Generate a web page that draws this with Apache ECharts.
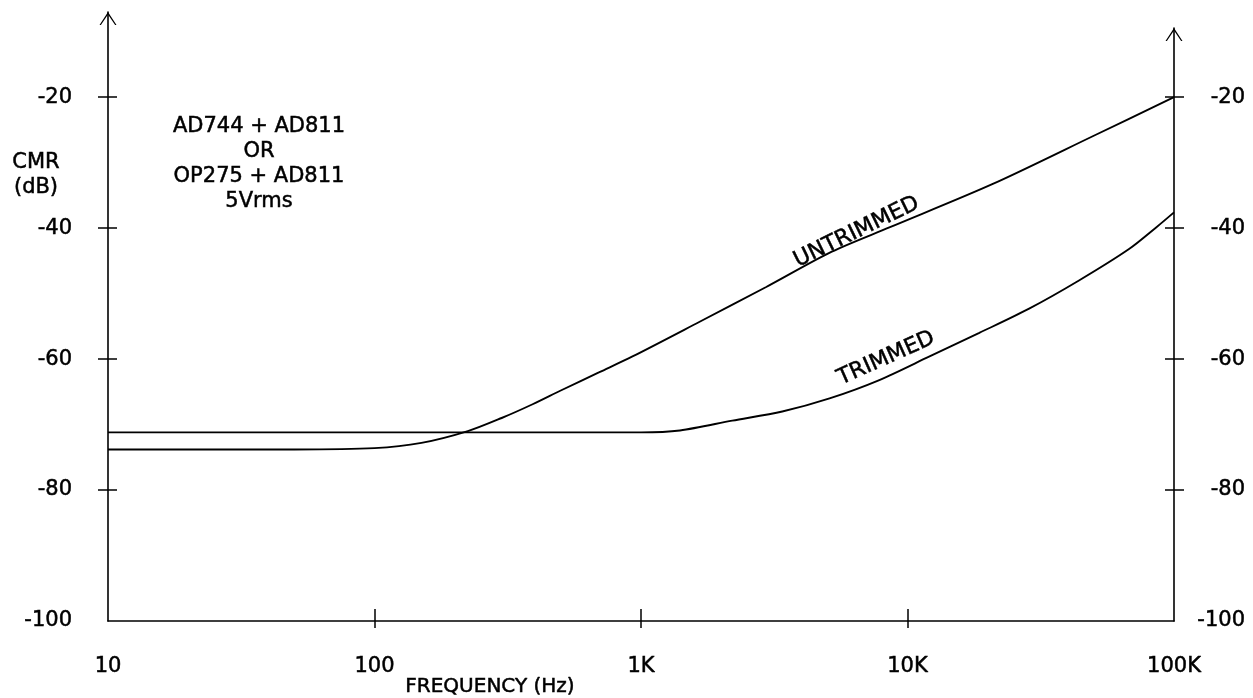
<!DOCTYPE html>
<html>
<head>
<meta charset="utf-8">
<script src="https://cdn.jsdelivr.net/npm/echarts@6/dist/echarts.min.js"></script>
<style>
  html, body { margin: 0; padding: 0; background: #fff; }
  #chart { width: 1253px; height: 698px; }
</style>
</head>
<body>
<div id="chart"></div>
<script>
// ---- data ----
const freqUntrimmed = [10, 50, 100, 150, 224, 300, 392, 500, 698, 929, 1660, 2950, 5200, 8550, 20800, 50000, 100000];
const cmrUntrimmed  = [-73.8, -73.8, -73.6, -72.8, -71.0, -69.0, -66.9, -64.8, -62.0, -59.6, -54.3, -49.0, -43.6, -39.9, -33.3, -25.9, -20.0];

const freqTrimmed = [10, 100, 1000, 1400, 2200, 3390, 5100, 7840, 12100, 18600, 28600, 44000, 67800, 85700, 100000];
const cmrTrimmed  = [-71.2, -71.2, -71.2, -70.9, -69.4, -68.0, -66.0, -63.2, -59.6, -56.0, -52.3, -48.0, -43.2, -39.9, -37.6];

const xTickValues = [10, 100, 1000, 10000, 100000];
const xTickLabels = ['10', '100', '1K', '10K', '100K'];
const xMinorTicks = [100, 1000, 10000];
const yTickValues = [-100, -80, -60, -40, -20];
const yCrossTicks = [-80, -60, -40, -20];

const curveLabels = [
  { name: 'UNTRIMMED', freq: 6440, db: -40.6, angle: 26 },
  { name: 'TRIMMED', freq: 8320, db: -59.9, angle: 24 }
];
const noteLines = ['AD744 + AD811', 'OR', 'OP275 + AD811', '5Vrms'];
const yTitle = ['CMR', '(dB)'];
const xTitle = 'FREQUENCY (Hz)';

// ---- chart ----
const FONT = 'DejaVu Sans';
const black = '#000';
const arrowPath = 'path://M0,13 L8.5,0 L17,13 L15.6,13 L8.5,2.4 L1.4,13 Z';
const heavy = { textBorderColor: black, textBorderWidth: 0.5 };

function pairs(xs, ys) { return xs.map((x, i) => [x, ys[i]]); }

const chart = echarts.init(document.getElementById('chart'), null, { renderer: 'canvas' });

const xLabelFmt = v => {
  const i = xTickValues.findIndex(t => Math.abs(t - v) / t < 1e-6);
  return i >= 0 ? xTickLabels[i] : '';
};

const baseX = {
  type: 'log', logBase: 10, min: 10, max: 100000,
  splitLine: { show: false }, minorTick: { show: false }
};
const tickLabelStyle = Object.assign({ color: black, fontFamily: FONT, fontSize: 21 }, heavy);

const option = {
  backgroundColor: '#fff',
  animation: false,
  grid: [
    { left: 108, right: 79, top: 12, bottom: 77, outerBoundsMode: 'none', containLabel: false },
    { left: 108, right: 79, top: 28, bottom: 77, outerBoundsMode: 'none', containLabel: false }
  ],
  xAxis: [
    Object.assign({}, baseX, {
      gridIndex: 0, position: 'bottom',
      axisLine: { show: true, lineStyle: { color: black, width: 1.6 } },
      axisTick: { show: true, inside: false, length: 7, lineStyle: { color: black, width: 1.5 }, customValues: xMinorTicks },
      axisLabel: Object.assign({ show: true, margin: 35, formatter: xLabelFmt, customValues: xTickValues }, tickLabelStyle)
    }),
    Object.assign({}, baseX, {
      gridIndex: 0, position: 'bottom',
      axisLine: { show: false },
      axisTick: { show: true, inside: true, length: 12, lineStyle: { color: black, width: 1.5 }, customValues: xMinorTicks },
      axisLabel: { show: false }
    }),
    Object.assign({}, baseX, { gridIndex: 1, show: false })
  ],
  yAxis: [
    {
      type: 'value', gridIndex: 0, position: 'left', min: -100, max: -7,
      splitLine: { show: false },
      axisLine: { show: true, lineStyle: { color: black, width: 1.6 }, symbol: ['none', arrowPath], symbolSize: [17, 13], symbolOffset: [0, -6.5] },
      axisTick: { show: true, inside: false, length: 10, lineStyle: { color: black, width: 1.5 }, customValues: yCrossTicks },
      axisLabel: Object.assign({ show: true, margin: 36, customValues: yTickValues }, tickLabelStyle)
    },
    {
      type: 'value', gridIndex: 0, position: 'left', min: -100, max: -7,
      splitLine: { show: false },
      axisLine: { show: false },
      axisTick: { show: true, inside: true, length: 9, lineStyle: { color: black, width: 1.5 }, customValues: yCrossTicks },
      axisLabel: { show: false }
    },
    {
      type: 'value', gridIndex: 1, position: 'right', min: -100, max: -9.44,
      splitLine: { show: false },
      axisLine: { show: true, lineStyle: { color: black, width: 1.6 }, symbol: ['none', arrowPath], symbolSize: [17, 13], symbolOffset: [0, -6.5] },
      axisTick: { show: true, inside: false, length: 10, lineStyle: { color: black, width: 1.5 }, customValues: yCrossTicks },
      axisLabel: Object.assign({ show: true, margin: 71, align: 'right', customValues: yTickValues }, tickLabelStyle)
    },
    {
      type: 'value', gridIndex: 1, position: 'right', min: -100, max: -9.44,
      splitLine: { show: false },
      axisLine: { show: false },
      axisTick: { show: true, inside: true, length: 9, lineStyle: { color: black, width: 1.5 }, customValues: yCrossTicks },
      axisLabel: { show: false }
    }
  ],
  series: [
    {
      name: 'UNTRIMMED', type: 'line', xAxisIndex: 0, yAxisIndex: 0,
      data: pairs(freqUntrimmed, cmrUntrimmed),
      smooth: 0.3, showSymbol: false,
      lineStyle: { color: black, width: 1.9 },
      markPoint: {
        symbol: 'circle', symbolSize: 0, silent: true,
        data: [{ coord: [curveLabels[0].freq, curveLabels[0].db], value: curveLabels[0].name }],
        label: Object.assign({ show: true, position: 'inside', formatter: curveLabels[0].name, rotate: curveLabels[0].angle, color: black, fontFamily: FONT, fontSize: 22 }, heavy)
      }
    },
    {
      name: 'TRIMMED', type: 'line', xAxisIndex: 0, yAxisIndex: 0,
      data: pairs(freqTrimmed, cmrTrimmed),
      smooth: 0.3, showSymbol: false,
      lineStyle: { color: black, width: 1.9 },
      markPoint: {
        symbol: 'circle', symbolSize: 0, silent: true,
        data: [{ coord: [curveLabels[1].freq, curveLabels[1].db], value: curveLabels[1].name }],
        label: Object.assign({ show: true, position: 'inside', formatter: curveLabels[1].name, rotate: curveLabels[1].angle, color: black, fontFamily: FONT, fontSize: 22 }, heavy)
      }
    }
  ],
  graphic: [
    {
      type: 'text', x: 36, y: 175, silent: true,
      style: Object.assign({ text: yTitle.join('\n'), fill: black, font: '21px "DejaVu Sans"', textAlign: 'center', textVerticalAlign: 'middle', lineHeight: 25 }, { stroke: black, lineWidth: 0.5 })
    },
    {
      type: 'text', x: 259, y: 164, silent: true,
      style: Object.assign({ text: noteLines.join('\n'), fill: black, font: '21px "DejaVu Sans"', textAlign: 'center', textVerticalAlign: 'middle', lineHeight: 25 }, { stroke: black, lineWidth: 0.5 })
    },
    {
      type: 'text', x: 490, y: 687, silent: true,
      style: Object.assign({ text: xTitle, fill: black, font: '20px "DejaVu Sans"', textAlign: 'center', textVerticalAlign: 'middle' }, { stroke: black, lineWidth: 0.5 })
    }
  ]
};

chart.setOption(option);
</script>
</body>
</html>
